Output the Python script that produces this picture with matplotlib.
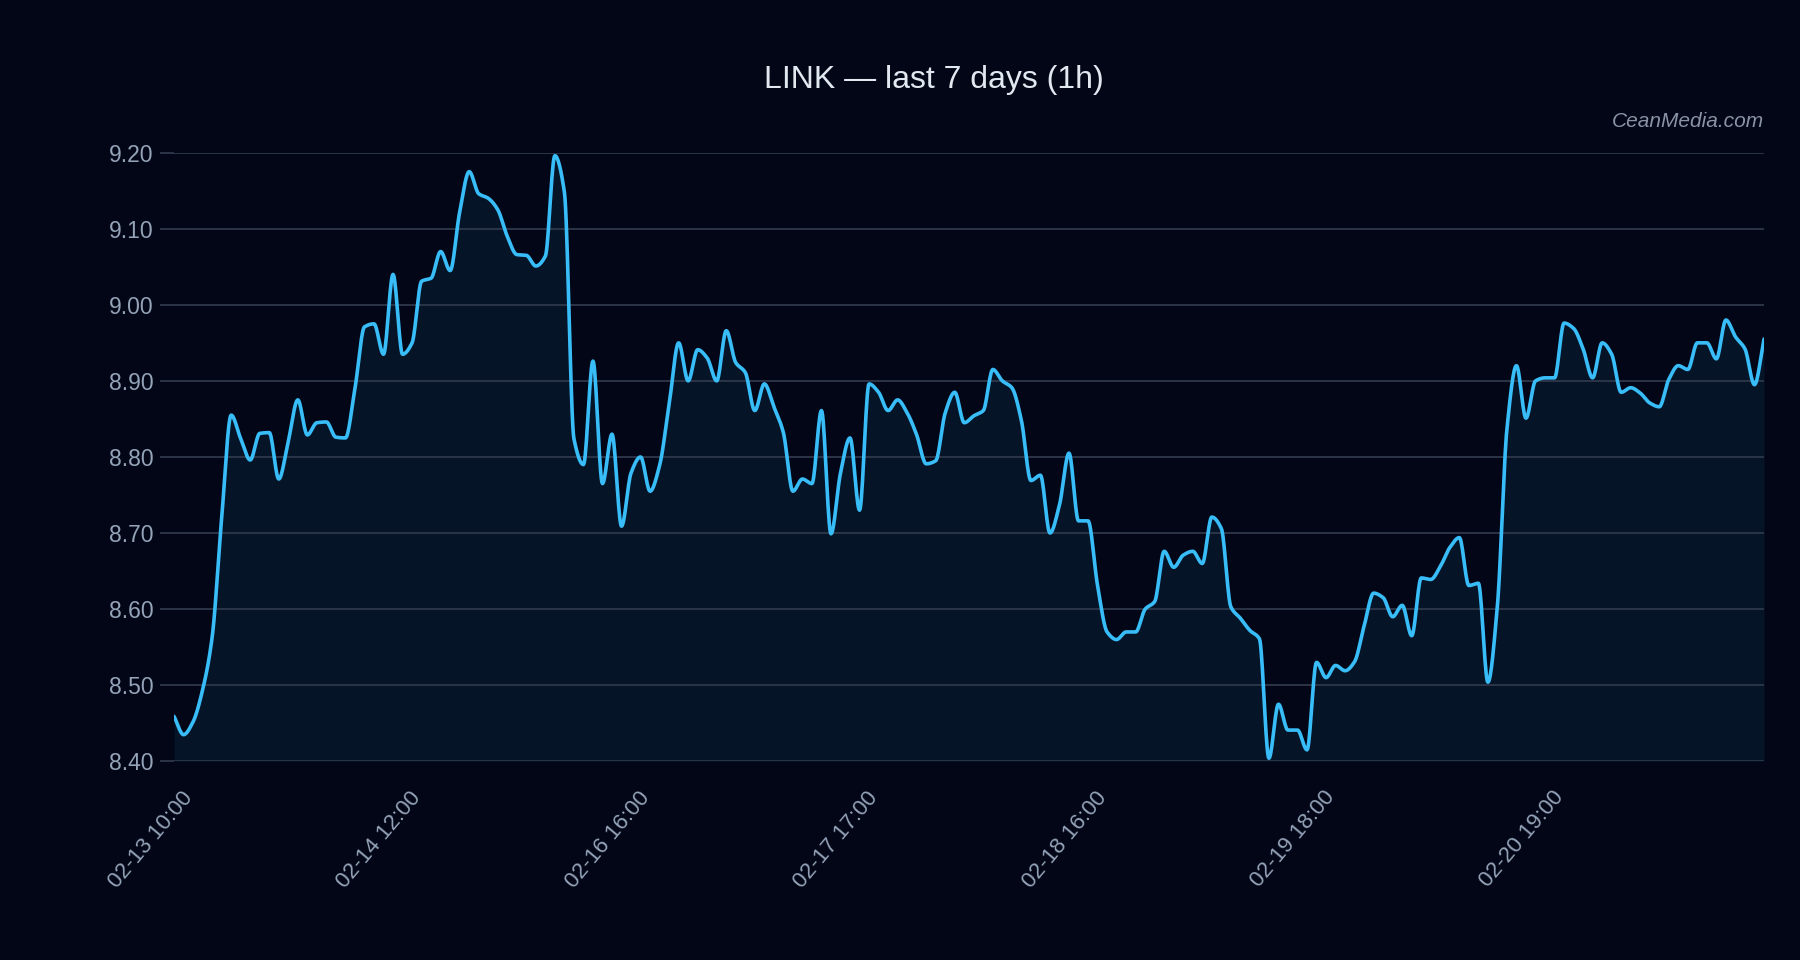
import numpy as np
import matplotlib
matplotlib.use("Agg")
import matplotlib.pyplot as plt
from matplotlib.transforms import ScaledTranslation

# Data (hourly closes)
prices = [
    8.459, 8.435, 8.452, 8.494, 8.563, 8.720, 8.855, 8.824, 8.796, 8.831,
    8.832, 8.771, 8.821, 8.875, 8.829, 8.845, 8.846, 8.826, 8.825, 8.890,
    8.971, 8.975, 8.935, 9.040, 8.935, 8.950, 9.031, 9.035, 9.070, 9.045,
    9.122, 9.175, 9.146, 9.140, 9.125, 9.090, 9.066, 9.065, 9.051, 9.064,
    9.196, 9.148, 8.824, 8.790, 8.926, 8.765, 8.830, 8.709, 8.779, 8.800,
    8.755, 8.789, 8.869, 8.950, 8.900, 8.941, 8.930, 8.900, 8.966, 8.924,
    8.911, 8.861, 8.896, 8.866, 8.832, 8.755, 8.771, 8.765, 8.861, 8.699,
    8.779, 8.825, 8.730, 8.896, 8.885, 8.861, 8.875, 8.858, 8.829, 8.791,
    8.795, 8.858, 8.885, 8.845, 8.854, 8.861, 8.915, 8.900, 8.891, 8.848,
    8.769, 8.776, 8.700, 8.737, 8.805, 8.716, 8.716, 8.631, 8.570, 8.560,
    8.570, 8.570, 8.600, 8.610, 8.676, 8.655, 8.671, 8.676, 8.660, 8.721,
    8.706, 8.603, 8.588, 8.572, 8.561, 8.404, 8.475, 8.441, 8.441, 8.415,
    8.530, 8.510, 8.526, 8.519, 8.531, 8.578, 8.621, 8.615, 8.590, 8.605,
    8.565, 8.641, 8.639, 8.656, 8.681, 8.694, 8.631, 8.634, 8.504, 8.605,
    8.837, 8.920, 8.851, 8.900, 8.904, 8.904, 8.976, 8.969, 8.942, 8.904,
    8.950, 8.935, 8.885, 8.891, 8.884, 8.871, 8.866, 8.902, 8.920, 8.915,
    8.950, 8.950, 8.929, 8.980, 8.958, 8.942, 8.895, 8.955,
]
tick_pos = [0, 24, 48, 72, 96, 120, 144]
tick_labels = ["02-13 10:00", "02-14 12:00", "02-16 16:00", "02-17 17:00",
               "02-18 16:00", "02-19 18:00", "02-20 19:00"]
y_ticks = [8.40, 8.50, 8.60, 8.70, 8.80, 8.90, 9.00, 9.10, 9.20]

# Colours
BG = "#020617"
LINE = "#38bdf8"
GRID = "#2b3547"
TICK = "#94a3b8"
TITLE = "#e2e8f0"

plt.rcParams["font.family"] = ["Liberation Sans", "DejaVu Sans"]


def monotone_curve(y, per_seg=16):
    # Fritsch-Carlson monotone cubic, only used to draw the smooth line
    y = np.asarray(y, dtype=float)
    n = len(y)
    x = np.arange(n, dtype=float)
    d = np.diff(y)
    m = np.zeros(n)
    m[0], m[-1] = d[0], d[-1]
    for i in range(1, n - 1):
        if d[i - 1] * d[i] <= 0:
            m[i] = 0.0
        else:
            m[i] = 2.0 / (1.0 / d[i - 1] + 1.0 / d[i])
    xs, ys = [], []
    t = np.linspace(0, 1, per_seg, endpoint=False)
    for i in range(n - 1):
        h00 = 2 * t**3 - 3 * t**2 + 1
        h10 = t**3 - 2 * t**2 + t
        h01 = -2 * t**3 + 3 * t**2
        h11 = t**3 - t**2
        xs.append(x[i] + t)
        ys.append(h00 * y[i] + h10 * m[i] + h01 * y[i + 1] + h11 * m[i + 1])
    xs.append([x[-1]])
    ys.append([y[-1]])
    return np.concatenate(xs), np.concatenate(ys)


fig = plt.figure(figsize=(18, 9.6), dpi=100, facecolor=BG)
ax = fig.add_axes([0.0967, 0.207, 0.8833, 0.634])
ax.set_facecolor(BG)

xs, ys = monotone_curve(prices)
ax.fill_between(xs, ys, y_ticks[0], color=LINE, alpha=0.08, lw=0, zorder=1)
ax.plot(xs, ys, color=LINE, lw=2.6, zorder=3, solid_capstyle="round")

ax.set_xlim(0, len(prices) - 1)
ax.set_ylim(y_ticks[0], y_ticks[-1])
ax.set_yticks(y_ticks)
ax.set_yticklabels([f"{v:.2f}" for v in y_ticks])
ax.set_xticks(tick_pos)
ax.set_xticklabels(tick_labels)

ax.grid(axis="y", color=GRID, lw=1.4, zorder=0)
ax.grid(axis="x", visible=False)
for s in ax.spines.values():
    s.set_visible(False)

ax.tick_params(axis="y", colors=GRID, labelcolor=TICK, labelsize=16.5,
               length=10, width=1.4, pad=5)
ax.tick_params(axis="x", length=0, labelcolor=TICK, labelsize=16, pad=0)

offset = ScaledTranslation(10.8 / 72, -23.5 / 72, fig.dpi_scale_trans)
for lab in ax.get_xticklabels():
    lab.set_rotation(50)
    lab.set_ha("right")
    lab.set_va("center")
    lab.set_rotation_mode("anchor")
    lab.set_transform(lab.get_transform() + offset)

fig.text(0.519, 0.9088, "LINK \u2014 last 7 days (1h)", color=TITLE,
         fontsize=23, ha="center", va="baseline")
fig.text(0.98, 0.868, "CeanMedia.com", color="#8a93a6", fontsize=15,
         style="italic", ha="right", va="baseline")

fig.savefig("out.png", dpi=100, facecolor=BG)
